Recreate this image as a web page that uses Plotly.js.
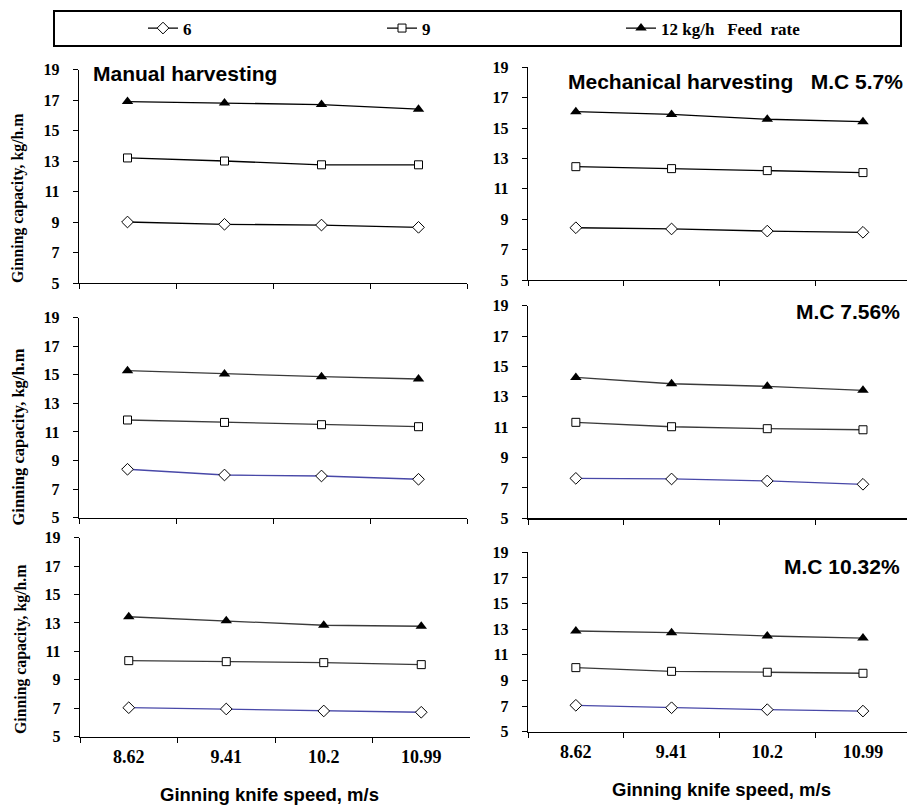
<!DOCTYPE html>
<html>
<head>
<meta charset="utf-8">
<script src="https://cdn.plot.ly/plotly-3.0.1.min.js"></script>
<style>html,body{margin:0;padding:0;background:#fff;}#chart{width:907px;height:806px;}</style>
</head>
<body>
<div id="chart"></div>
<script>
// ---- data ----
const speeds = ["8.62", "9.41", "10.2", "10.99"];
const feedNames = ["6", "9", "12 kg/h\u00a0\u00a0 Feed\u00a0 rate"];

// Manual harvesting (left column), rows top -> bottom
const manualRow1_6  = [9.0, 8.85, 8.8, 8.65];
const manualRow1_9  = [13.2, 13.0, 12.75, 12.75];
const manualRow1_12 = [16.9, 16.8, 16.7, 16.4];
const manualRow2_6  = [8.39, 7.99, 7.92, 7.69];
const manualRow2_9  = [11.84, 11.67, 11.51, 11.37];
const manualRow2_12 = [15.29, 15.06, 14.87, 14.71];
const manualRow3_6  = [7.04, 6.95, 6.81, 6.72];
const manualRow3_9  = [10.35, 10.28, 10.21, 10.07];
const manualRow3_12 = [13.44, 13.16, 12.84, 12.77];

// Mechanical harvesting (right column): M.C 5.7%, 7.56%, 10.32%
const mechMC57_6   = [8.44, 8.36, 8.22, 8.14];
const mechMC57_9   = [12.46, 12.33, 12.2, 12.07];
const mechMC57_12  = [16.08, 15.9, 15.58, 15.42];
const mechMC756_6  = [7.63, 7.59, 7.46, 7.24];
const mechMC756_9  = [11.32, 11.03, 10.9, 10.83];
const mechMC756_12 = [14.28, 13.86, 13.69, 13.43];
const mechMC1032_6  = [7.06, 6.87, 6.72, 6.61];
const mechMC1032_9  = [10.0, 9.71, 9.64, 9.56];
const mechMC1032_12 = [12.86, 12.73, 12.47, 12.31];

const yTickVals = [5, 7, 9, 11, 13, 15, 17, 19];

// ---- layout helpers ----
const W = 907, H = 806;
const px = v => v / W;
const py = v => 1 - v / H;
const serif = "'Times New Roman', 'Liberation Serif', serif";
const sans = "Arial, 'Liberation Sans', sans-serif";

const panels = [
  {s: [manualRow1_6, manualRow1_9, manualRow1_12], x: [79, 467], y: [69.5, 283], xr: [-0.5, 3.5], bottom: false, blue: false},
  {s: [mechMC57_6, mechMC57_9, mechMC57_12], x: [528, 907], y: [67.3, 280], xr: [-0.5, 3.46], bottom: false, blue: false},
  {s: [manualRow2_6, manualRow2_9, manualRow2_12], x: [79, 467], y: [317.7, 517.7], xr: [-0.5, 3.5], bottom: false, blue: true},
  {s: [mechMC756_6, mechMC756_9, mechMC756_12], x: [528, 907], y: [305.7, 518.3], xr: [-0.5, 3.46], bottom: false, blue: true},
  {s: [manualRow3_6, manualRow3_9, manualRow3_12], x: [80, 470], y: [537.7, 736.7], xr: [-0.5, 3.5], bottom: true, blue: true},
  {s: [mechMC1032_6, mechMC1032_9, mechMC1032_12], x: [528, 907], y: [552.3, 731.7], xr: [-0.5, 3.46], bottom: true, blue: true}
];

const markerDefs = [
  {symbol: "diamond", size: 9, color: "#ffffff", line: {color: "#000", width: 1}},
  {symbol: "square", size: 8, color: "#ffffff", line: {color: "#000", width: 1}},
  {symbol: "triangle-up", size: 10, color: "#000000", line: {color: "#000", width: 0}}
];

const traces = [];
const layout = {
  width: W, height: H,
  margin: {l: 0, r: 0, t: 0, b: 0},
  paper_bgcolor: "#ffffff",
  plot_bgcolor: "rgba(0,0,0,0)",
  showlegend: true,
  legend: {
    orientation: "h",
    x: px(143), xanchor: "left",
    y: py(28.5), yanchor: "middle",
    entrywidth: 194, entrywidthmode: "pixels",
    bgcolor: "rgba(0,0,0,0)", borderwidth: 0,
    font: {family: serif, size: 17, color: "#000", weight: "bold"}
  },
  shapes: [{
    type: "rect", xref: "paper", yref: "paper",
    x0: px(54), x1: px(901), y0: py(46), y1: py(11),
    line: {color: "#000", width: 2}, fillcolor: "rgba(0,0,0,0)"
  }],
  annotations: []
};

panels.forEach((p, i) => {
  const n = i === 0 ? "" : String(i + 1);
  const xa = "x" + n, ya = "y" + n;
  p.s.forEach((vals, k) => {
    let lineColor = "#000";
    if (p.blue) lineColor = k === 0 ? "#4848a8" : "#3a3a3a";
    traces.push({
      type: "scatter", mode: "lines+markers",
      x: speeds, y: vals,
      xaxis: xa, yaxis: ya,
      name: feedNames[k],
      showlegend: i === 0,
      line: {color: lineColor, width: 1.3},
      marker: markerDefs[k],
      cliponaxis: false
    });
  });
  layout["xaxis" + n] = {
    domain: [px(p.x[0]), px(p.x[1])],
    anchor: ya,
    type: "category",
    categoryorder: "array", categoryarray: speeds,
    range: p.xr,
    tickson: "boundaries",
    ticks: "outside", ticklen: 5, tickwidth: 1, tickcolor: "#000",
    showline: true, linecolor: "#000", linewidth: 1.2,
    showgrid: false, zeroline: false,
    showticklabels: p.bottom,
    ticklabelstandoff: 3,
    tickfont: {family: serif, size: 18, color: "#000", weight: "bold"}
  };
  layout["yaxis" + n] = {
    domain: [py(p.y[1]), py(p.y[0])],
    anchor: xa,
    range: [5, 19],
    tickmode: "array", tickvals: yTickVals,
    ticks: "outside", ticklen: 5, tickwidth: 1, tickcolor: "#000",
    showline: true, linecolor: "#000", linewidth: 1.2,
    showgrid: false, zeroline: false,
    ticklabelstandoff: 10,
    tickfont: {family: serif, size: 16, color: "#000", weight: "bold"}
  };
});

const ann = (text, x, y, opts) => Object.assign({
  text: text, xref: "paper", yref: "paper", x: x, y: y,
  showarrow: false, font: {family: sans, size: 21, color: "#000", weight: "bold"},
  xanchor: "left", yanchor: "middle"
}, opts || {});

layout.annotations.push(ann("Manual harvesting", px(91), py(73)));
layout.annotations.push(ann("Mechanical harvesting\u00a0\u00a0 M.C 5.7%", px(905), py(81.7), {xanchor: "right"}));
layout.annotations.push(ann("M.C 7.56%", px(901.7), py(311.7), {xanchor: "right"}));
layout.annotations.push(ann("M.C 10.32%", px(901.7), py(566.7), {xanchor: "right"}));

// y-axis titles (one per left-column row)
const yTitle = "Ginning capacity, kg/h.m";
[[18, 199, 15.8], [18.5, 437, 16.5], [21, 650, 15.8]].forEach(([x, y, s]) => {
  layout.annotations.push(ann(yTitle, px(x), py(y), {
    textangle: -90, xanchor: "center", yanchor: "middle",
    font: {family: serif, size: s, color: "#000", weight: "bold"}
  }));
});

// x-axis titles
const xTitle = "Ginning knife speed, m/s";
layout.annotations.push(ann(xTitle, px(269), py(794), {xanchor: "center", font: {family: sans, size: 18.5, color: "#000", weight: "bold"}}));
layout.annotations.push(ann(xTitle, px(721), py(789), {xanchor: "center", font: {family: sans, size: 18.5, color: "#000", weight: "bold"}}));

Plotly.newPlot("chart", traces, layout, {displayModeBar: false, staticPlot: true});
</script>
</body>
</html>
